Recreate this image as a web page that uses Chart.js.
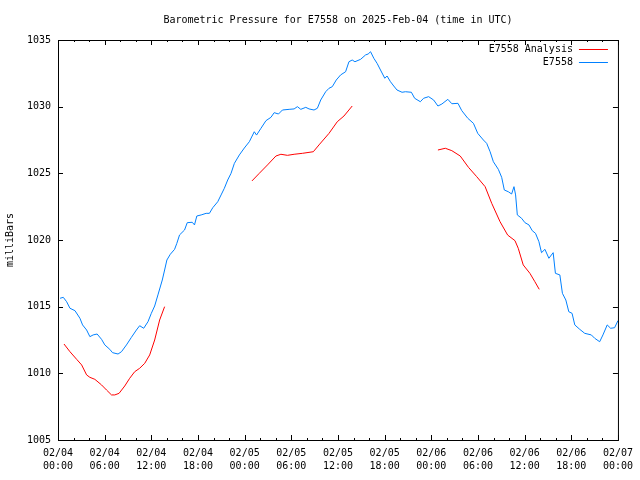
<!DOCTYPE html>
<html lang="en">
<head>
    <meta charset="UTF-8">
    <title>Barometric Pressure for E7558</title>
    <script src="https://cdn.jsdelivr.net/npm/chart.js"></script>
    <style>
        body { margin: 0; background: #fff; }
        canvas { display: block; }
    </style>
</head>
<body>
    <canvas id="pressChart" width="640" height="480"></canvas>

    <script>
        // hours since 2025-02-04 00:00 UTC, pressure in mb
        const stationHours = [0.26,0.68,1.11,1.54,2.18,2.82,3.16,3.68,4.10,4.52,
            5.03,5.60,6.02,6.66,7.01,7.72,8.16,8.80,9.44,10.08,
            10.50,11.02,11.57,12.00,12.43,12.85,13.41,13.71,14.00,14.44,
            14.99,15.28,15.63,16.27,16.62,17.26,17.55,17.85,18.41,19.05,
            19.47,19.90,20.54,20.97,21.39,21.82,22.25,22.68,23.32,23.96,
            24.60,25.24,25.53,26.10,26.74,27.38,27.80,28.35,28.86,29.72,
            30.36,30.78,31.22,31.86,32.28,32.92,33.35,33.78,34.42,34.85,
            35.27,35.78,36.34,36.98,37.41,37.83,38.18,38.91,39.55,39.88,
            40.19,40.61,41.03,41.47,42.02,42.31,42.75,43.17,43.59,44.24,
            44.67,45.44,45.86,46.59,47.01,47.66,48.30,48.85,49.36,50.13,
            50.64,51.43,51.92,52.69,53.42,53.97,54.70,55.12,55.56,55.98,
            56.62,57.05,57.39,57.90,58.33,58.63,58.84,59.06,59.61,60.04,
            60.56,60.98,61.40,61.84,62.17,62.61,63.12,63.67,63.96,64.53,
            64.86,65.30,65.68,66.10,66.45,67.09,67.73,68.58,69.01,69.65,
            70.07,70.62,71.06,71.57,72.00];
        const stationPress = [1015.63,1015.70,1015.37,1014.88,1014.70,1014.13,1013.63,1013.25,1012.75,1012.88,
            1012.95,1012.55,1012.13,1011.80,1011.55,1011.45,1011.62,1012.13,1012.70,1013.25,
            1013.57,1013.38,1013.87,1014.50,1015.05,1015.88,1017.00,1017.75,1018.50,1018.93,
            1019.30,1019.75,1020.38,1020.75,1021.30,1021.33,1021.13,1021.80,1021.88,1022.00,
            1022.00,1022.42,1022.87,1023.38,1023.88,1024.50,1025.00,1025.75,1026.38,1026.90,
            1027.37,1028.12,1027.87,1028.38,1028.95,1029.20,1029.55,1029.45,1029.75,1029.80,
            1029.83,1030.00,1029.80,1029.95,1029.83,1029.75,1029.88,1030.50,1031.12,1031.38,
            1031.50,1032.00,1032.38,1032.62,1033.37,1033.50,1033.37,1033.55,1033.88,1033.95,
            1034.12,1033.63,1033.25,1032.75,1032.13,1032.30,1031.87,1031.55,1031.25,1031.08,
            1031.12,1031.08,1030.63,1030.37,1030.63,1030.75,1030.50,1030.05,1030.20,1030.55,
            1030.22,1030.25,1029.70,1029.13,1028.75,1028.00,1027.50,1027.25,1026.62,1025.87,
            1025.30,1024.70,1023.75,1023.62,1023.45,1024.00,1023.38,1021.88,1021.63,1021.30,
            1021.13,1020.70,1020.50,1019.87,1019.05,1019.30,1018.63,1019.05,1017.50,1017.38,
            1016.00,1015.50,1014.62,1014.50,1013.63,1013.30,1013.00,1012.88,1012.63,1012.37,
            1012.88,1013.63,1013.38,1013.42,1013.95];

        // analysis runs, null = gap between runs
        const analysisHours = [0.77,1.54,2.40,3.04,3.68,4.10,4.74,5.60,6.24,6.88,7.30,7.85,8.58,9.22,9.86,10.50,11.15,11.79,12.43,13.07,13.71,
            19,
            24.94,25.88,26.94,28.02,28.66,29.50,30.36,31.42,32.83,33.56,34.85,35.91,36.77,37.83,
            43,
            48.85,49.80,50.64,51.72,52.78,53.84,54.92,55.77,56.84,57.82,58.76,59.18,59.82,60.68,61.32,61.88];
        const analysisPress = [1012.20,1011.62,1011.05,1010.63,1009.88,1009.70,1009.55,1009.13,1008.75,1008.38,1008.38,1008.50,1009.05,1009.63,1010.12,1010.38,1010.75,1011.38,1012.50,1014.00,1015.00,
            null,
            1024.43,1025.00,1025.63,1026.30,1026.43,1026.35,1026.43,1026.50,1026.62,1027.13,1028.00,1028.87,1029.30,1030.05,
            null,
            1026.75,1026.88,1026.70,1026.30,1025.45,1024.75,1024.00,1022.75,1021.37,1020.37,1019.95,1019.38,1018.13,1017.50,1016.87,1016.30];

        const seriesNames = ['E7558 Analysis', 'E7558'];
        const seriesColors = ['#ff0000', '#0080ff'];
        const startDay = 4; // 02/04

        Chart.defaults.font.family = "'DejaVu Sans Mono', monospace";
        Chart.defaults.font.size = 10;
        Chart.defaults.color = '#000';

        function pad(n) { return (n < 10 ? '0' : '') + n; }

        // gnuplot style frame with inward ticks + key in the top right corner
        const gnuFrame = {
            id: 'gnuFrame',
            afterDatasetsDraw(chart) {
                const { ctx, chartArea: a, scales: { x, y } } = chart;
                ctx.save();
                ctx.strokeStyle = '#000';
                ctx.lineWidth = 1;
                ctx.strokeRect(a.left + 0.5, a.top + 0.5, a.right - a.left, a.bottom - a.top);

                ctx.beginPath();
                for (let h = x.min; h <= x.max; h += 2) {
                    const px = Math.round(x.getPixelForValue(h)) + 0.5;
                    const len = h % 6 === 0 ? 5 : 2;
                    ctx.moveTo(px, a.bottom); ctx.lineTo(px, a.bottom - len);
                    ctx.moveTo(px, a.top); ctx.lineTo(px, a.top + len);
                }
                for (let p = y.min; p <= y.max; p += 5) {
                    const py = Math.round(y.getPixelForValue(p)) + 0.5;
                    ctx.moveTo(a.left, py); ctx.lineTo(a.left + 5, py);
                    ctx.moveTo(a.right, py); ctx.lineTo(a.right - 5, py);
                }
                ctx.stroke();

                // key
                ctx.font = Chart.defaults.font.size + 'px ' + Chart.defaults.font.family;
                ctx.textAlign = 'right';
                ctx.textBaseline = 'middle';
                chart.data.datasets.forEach((ds, i) => {
                    const ky = a.top + 9 + i * 13;
                    ctx.fillStyle = '#000';
                    ctx.fillText(ds.label, a.right - 45, ky);
                    ctx.strokeStyle = ds.borderColor;
                    ctx.beginPath();
                    ctx.moveTo(a.right - 39, ky + 0.5);
                    ctx.lineTo(a.right - 10, ky + 0.5);
                    ctx.stroke();
                });
                ctx.restore();
            }
        };

        const ctx = document.getElementById('pressChart').getContext('2d');
        new Chart(ctx, {
            type: 'line',
            data: {
                datasets: [{
                    label: seriesNames[0],
                    data: analysisHours.map((h, i) => ({ x: h, y: analysisPress[i] })),
                    borderColor: seriesColors[0],
                    borderWidth: 1,
                    pointRadius: 0,
                    spanGaps: false,
                    tension: 0
                }, {
                    label: seriesNames[1],
                    data: stationHours.map((h, i) => ({ x: h, y: stationPress[i] })),
                    borderColor: seriesColors[1],
                    borderWidth: 1,
                    pointRadius: 0,
                    tension: 0
                }]
            },
            options: {
                responsive: false,
                animation: false,
                layout: { padding: { left: 0, right: 20, top: 0, bottom: 0 } },
                plugins: {
                    legend: { display: false },
                    tooltip: { enabled: false },
                    title: {
                        display: true,
                        fullSize: false,
                        text: 'Barometric Pressure for E7558 on 2025-Feb-04 (time in UTC)',
                        font: { size: 10, weight: 'normal' },
                        color: '#000',
                        padding: { top: 14, bottom: 14 }
                    }
                },
                scales: {
                    x: {
                        type: 'linear',
                        min: 0,
                        max: 72,
                        grid: { display: false, drawTicks: false },
                        border: { display: false },
                        ticks: {
                            stepSize: 6,
                            autoSkip: false,
                            maxRotation: 0,
                            padding: 7,
                            font: { lineHeight: 1.3 },
                            callback: v => ['02/' + pad(startDay + Math.floor(v / 24)), pad(v % 24) + ':00']
                        },
                        afterFit: s => { s.height = 40; }
                    },
                    y: {
                        min: 1005,
                        max: 1035,
                        grid: { display: false, drawTicks: false },
                        border: { display: false },
                        ticks: { stepSize: 5, padding: 7, callback: v => String(v) },
                        title: { display: true, text: 'milliBars', padding: { top: 4 } },
                        afterFit: s => { s.width = 58; }
                    }
                }
            },
            plugins: [gnuFrame]
        });
    </script>
</body>
</html>
